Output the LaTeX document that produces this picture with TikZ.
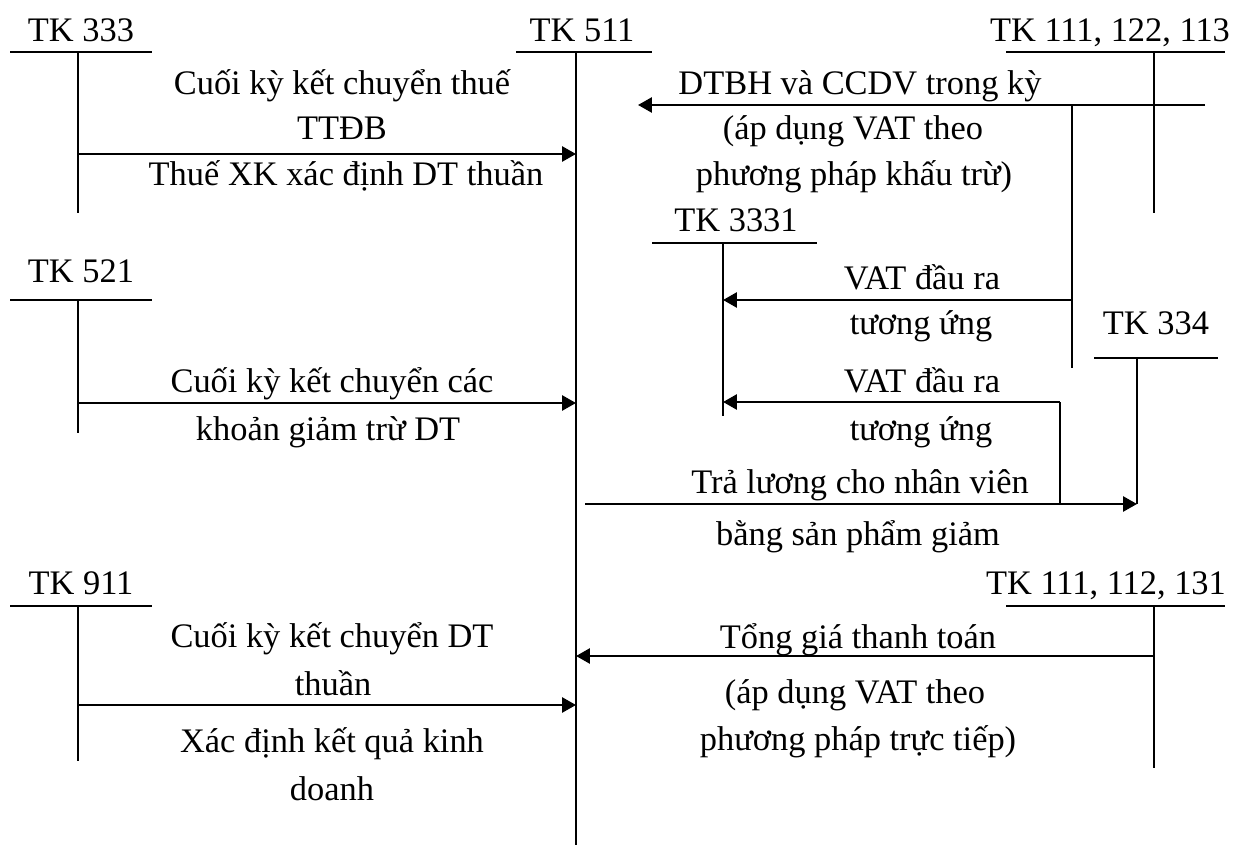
\documentclass[tikz,border=0pt]{standalone}
\usepackage{fontspec}
\setmainfont{Liberation Serif}
\usetikzlibrary{arrows.meta}
\tikzset{
	tline/.style={line width=0.7pt},
	flow/.style={line width=0.95pt, -{Triangle[length=5.2pt, width=5.6pt]}},
	lbl/.style={anchor=base, inner sep=0pt, font=\fontsize{12.9}{15}\selectfont},
}
% T-account: name, x of stem, y of bar, y of stem end, bar from, bar to
\def\taccount#1#2#3#4#5#6{%
	\coordinate (#1) at (#2, #3);
	\coordinate (#1e) at (#2, #4);
	\draw[tline] (#5, #3) -- (#6, #3);
	\draw[tline] (#1) -- (#1e);}

\begin{document}
\begin{tikzpicture}[x=0.375pt, y=-0.375pt]
			%%%%% START %%%%%
			\useasboundingbox (0, 0) rectangle (1233, 845);
			
			\node[lbl] (n333) at (81, 42) {TK 333};
			\node[lbl] (n511) at (582, 42) {TK 511};
			\node[lbl] (n111a) at (1110, 42) {TK 111, 122, 113};
			\node[lbl] (n3331) at (736, 232) {TK 3331};
			\node[lbl] (n334) at (1156, 335) {TK 334};
			\node[lbl] (n521) at (81, 283) {TK 521};
			\node[lbl] (n911) at (81, 594) {TK 911};
			\node[lbl] (n111b) at (1106, 594) {TK 111, 112, 131};
			
			\taccount{t333}{78}{52}{213}{10}{152}
			\taccount{t511}{576}{52}{845}{516}{652}
			\taccount{t111a}{1154}{52}{213}{1006}{1225}
			\taccount{t3331}{723}{243}{416}{652}{817}
			\taccount{t334}{1137}{358}{504}{1094}{1218}
			\taccount{t521}{78}{300}{433}{10}{152}
			\taccount{t911}{78}{606}{761}{10}{152}
			\taccount{t111b}{1154}{606}{768}{1006}{1225}
			
			% TK 333 -> TK 511
			\coordinate (p1) at (78, 154);
			\draw[flow] (p1) -- (p1 -| t511);
			\node[lbl] (l1a) at (342, 95) {Cuối kỳ kết chuyển thuế};
			\node[lbl] (l1b) at (342, 140) {TTĐB};
			\node[lbl] (l1c) at (346, 186) {Thuế XK xác định DT thuần};
			
			% TK 111, 122, 113 -> TK 511
			\coordinate (p2) at (1205, 105);
			\coordinate (p2e) at (638, 105);
			\draw[flow] (p2) -- (p2e);
			\node[lbl] (l2a) at (860, 95) {DTBH và CCDV trong kỳ};
			\node[lbl] (l2b) at (853, 140) {(áp dụng VAT theo};
			\node[lbl] (l2c) at (854, 186) {phương pháp khấu trừ)};
			
			% VAT -> TK 3331
			\coordinate (b2) at (1072, 105);
			\coordinate (b2e) at (1072, 368);
			\draw[tline] (b2) -- (b2e);
			\coordinate (p3) at (1072, 300);
			\draw[flow] (p3) -- (p3 -| t3331);
			\node[lbl] (l3a) at (922, 289) {VAT đầu ra};
			\node[lbl] (l3b) at (921, 335) {tương ứng};
			
			\coordinate (p4) at (1060, 402);
			\coordinate (p4e) at (1060, 504);
			\draw[tline] (p4e) -- (p4);
			\draw[flow] (p4) -- (p4 -| t3331);
			\node[lbl] (l4a) at (922, 392) {VAT đầu ra};
			\node[lbl] (l4b) at (921, 440) {tương ứng};
			
			% TK 511 -> TK 334
			\coordinate (p5) at (585, 504);
			\draw[flow] (p5) -- (p5 -| t334);
			\node[lbl] (l5a) at (860, 493) {Trả lương cho nhân viên};
			\node[lbl] (l5b) at (858, 545) {bằng sản phẩm giảm};
			
			% TK 521 -> TK 511
			\coordinate (p6) at (78, 403);
			\draw[flow] (p6) -- (p6 -| t511);
			\node[lbl] (l6a) at (332, 392) {Cuối kỳ kết chuyển các};
			\node[lbl] (l6b) at (328, 440) {khoản giảm trừ DT};
			
			% TK 911 -> TK 511
			\coordinate (p7) at (78, 705);
			\draw[flow] (p7) -- (p7 -| t511);
			\node[lbl] (l7a) at (332, 647) {Cuối kỳ kết chuyển DT};
			\node[lbl] (l7b) at (333, 695) {thuần};
			\node[lbl] (l7c) at (332, 752) {Xác định kết quả kinh};
			\node[lbl] (l7d) at (332, 800) {doanh};
			
			% TK 111, 112, 131 -> TK 511
			\coordinate (p8) at (1154, 656);
			\draw[flow] (p8) -- (p8 -| t511);
			\node[lbl] (l8a) at (858, 648) {Tổng giá thanh toán};
			\node[lbl] (l8b) at (855, 703) {(áp dụng VAT theo};
			\node[lbl] (l8c) at (858, 750) {phương pháp trực tiếp)};
			%%%%% END %%%%%
\end{tikzpicture}
\end{document}
